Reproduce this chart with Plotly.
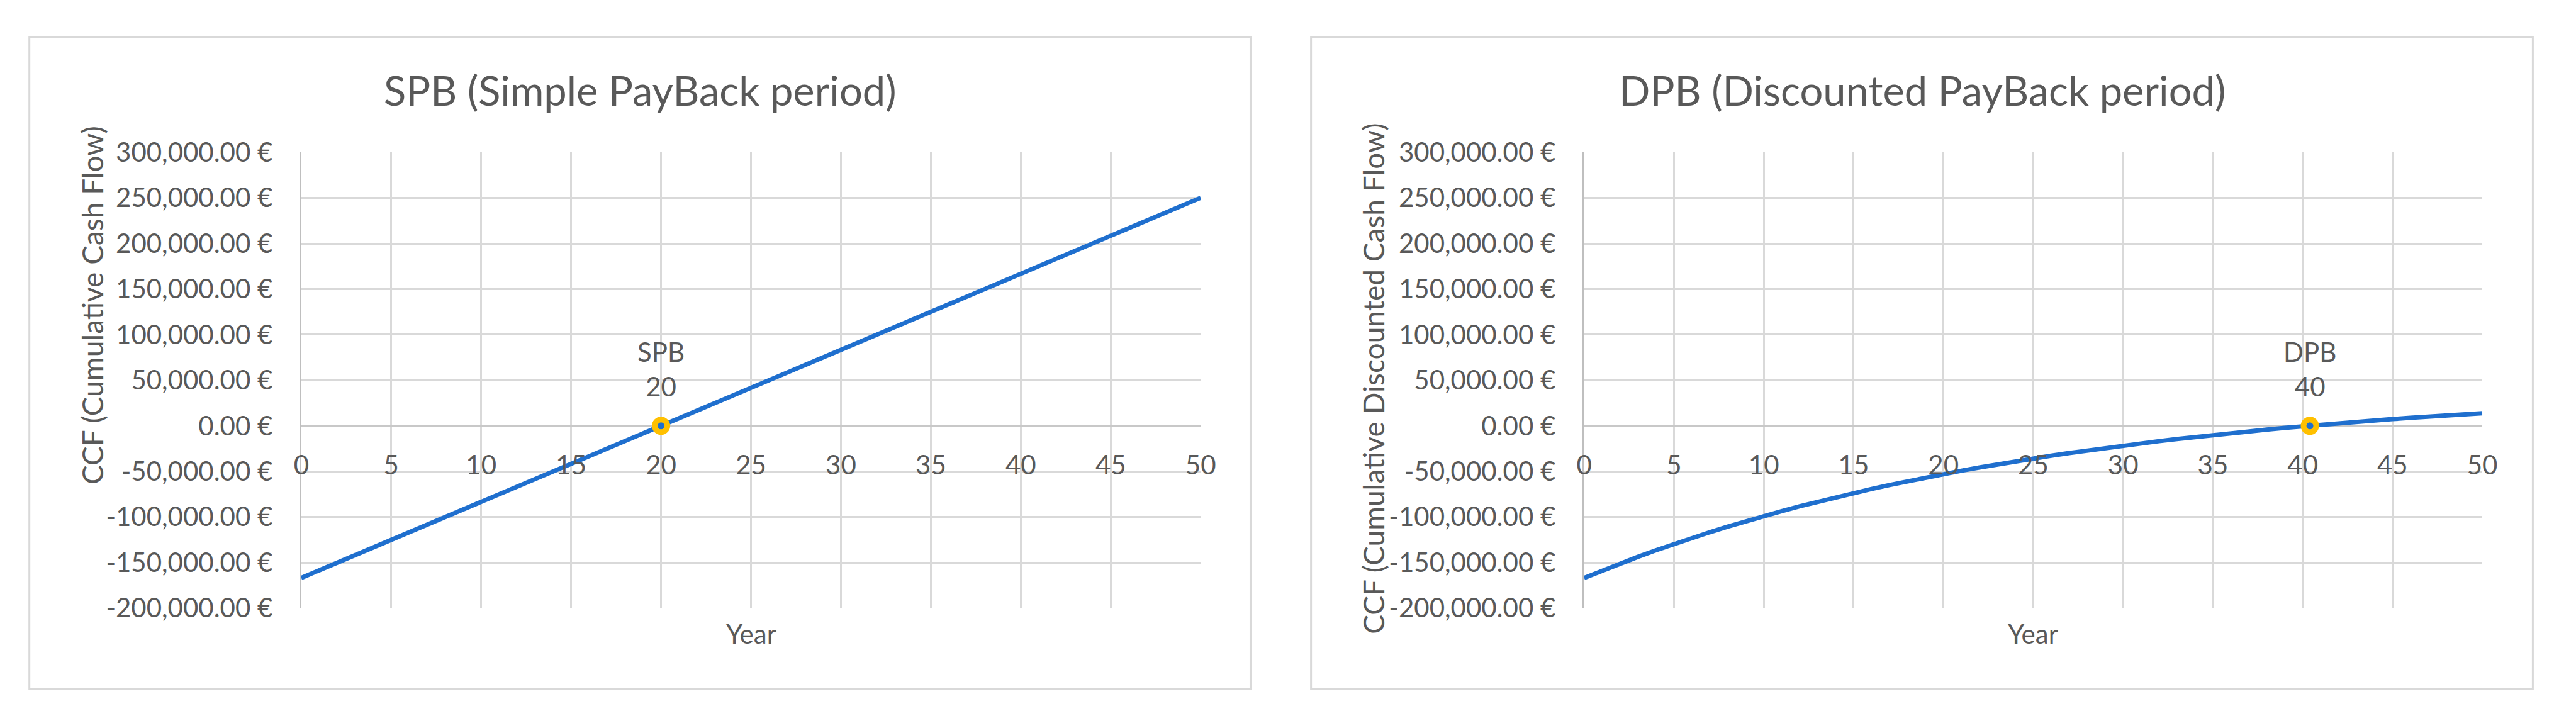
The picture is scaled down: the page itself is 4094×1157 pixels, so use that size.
"""
Simple vs discounted payback period charts (two Excel-style panels).
"""
import plotly.graph_objects as go

# --- data -----------------------------------------------------------------
years = list(range(51))

# cumulative cash flow (EUR), year 0..50
spb_ccf = [
    -166800, -158460, -150120, -141780, -133440, -125100, -116760, -108420,
    -100080, -91740, -83400, -75060, -66720, -58380, -50040, -41700, -33360,
    -25020, -16680, -8340, 0, 8340, 16680, 25020, 33360, 41700, 50040, 58380,
    66720, 75060, 83400, 91740, 100080, 108420, 116760, 125100, 133440,
    141780, 150120, 158460, 166800, 175140, 183480, 191820, 200160, 208500,
    216840, 225180, 233520, 241860, 250200,
]

# cumulative discounted cash flow (EUR), year 0..50
dpb_ccf = [
    -166800, -158777, -151059, -143634, -136491, -129620, -123010, -116650,
    -110533, -104648, -98987, -93541, -88301, -83261, -78412, -73748, -69261,
    -64944, -60791, -56797, -52953, -49256, -45700, -42278, -38987, -35821,
    -32775, -29844, -27026, -24314, -21705, -19195, -16781, -14459, -12225,
    -10075, -8007, -6018, -4105, -2264, -493, 1210, 2849, 4426, 5943, 7401,
    8805, 10155, 11454, 12704, 13906,
]

x_ticks = [0, 5, 10, 15, 20, 25, 30, 35, 40, 45, 50]
y_ticks = [-200000, -150000, -100000, -50000, 0, 50000, 100000, 150000,
           200000, 250000, 300000]
y_tick_labels = [
    "-200,000.00 €", "-150,000.00 €", "-100,000.00 €", "-50,000.00 €",
    "0.00 €", "50,000.00 €", "100,000.00 €", "150,000.00 €",
    "200,000.00 €", "250,000.00 €", "300,000.00 €",
]

payback_names = ["SPB", "DPB"]
payback_years = [20, 40.4]
payback_values = [0, 0]
payback_labels = ["20", "40"]

chart_titles = ["SPB (Simple PayBack period)", "DPB (Discounted PayBack period)"]
y_titles = ["CCF (Cumulative Cash Flow)", "CCF (Cumulative Discounted Cash Flow)"]

# --- styling --------------------------------------------------------------
W, H = 4094, 1157
TEXT = "#595959"
GRID = "#d9d9d9"
LINE = "#1f6fce"
RING = "#ffc000"
FONT = "Lato, Open Sans, sans-serif"

# panel geometry in pixels: (panel x0, panel x1, plot x0, plot x1, y-title centre)
panels = [(35, 1993, 471, 1913, 480), (2090, 4049, 2528, 3968, 602)]
PANEL_TOP, PANEL_BOTTOM = 35, 1117
PLOT_TOP, PLOT_BOTTOM = 226, 983


def px_x(v):
    return v / W


def px_y(v):
    return 1 - v / H


fig = go.Figure()
series = [spb_ccf, dpb_ccf]
y_dom = [px_y(PLOT_BOTTOM), px_y(PLOT_TOP)]
zero_pos = y_dom[0] + (0 - y_ticks[0]) / (y_ticks[-1] - y_ticks[0]) * (y_dom[1] - y_dom[0])

for i, (p0, p1, a0, a1, yt) in enumerate(panels):
    n = "" if i == 0 else str(i + 1)
    xa, ya = "x" + n, "y" + n

    fig.add_trace(go.Scatter(
        x=years, y=series[i], mode="lines",
        line=dict(color=LINE, width=7),
        xaxis=xa, yaxis=ya, showlegend=False, hoverinfo="skip",
    ))
    fig.add_trace(go.Scatter(
        x=[payback_years[i]], y=[payback_values[i]], mode="markers",
        marker=dict(size=20, color=LINE, line=dict(color=RING, width=9)),
        xaxis=xa, yaxis=ya, showlegend=False, hoverinfo="skip",
    ))
    fig.add_annotation(
        x=payback_years[i], y=payback_values[i], xref=xa, yref=ya,
        text=f"{payback_names[i]}<br>{payback_labels[i]}",
        showarrow=False, yanchor="bottom", yshift=36,
        font=dict(family=FONT, size=42, color=TEXT),
    )

    fig.update_layout({
        "xaxis" + n: dict(
            domain=[px_x(a0), px_x(a1)], range=[0, 50],
            tickvals=x_ticks, anchor="free", position=zero_pos,
            showgrid=True, gridcolor=GRID, gridwidth=3,
            zeroline=False, showline=False, ticks="",
            ticklabelstandoff=34,
            tickfont=dict(family=FONT, size=42, color=TEXT),
        ),
        "yaxis" + n: dict(
            domain=y_dom, range=[y_ticks[0], y_ticks[-1]], anchor=xa,
            tickvals=y_ticks, ticktext=y_tick_labels,
            showgrid=True, gridcolor=GRID, gridwidth=3,
            zeroline=True, zerolinecolor="#c8c8c8", zerolinewidth=3,
            showline=True, linecolor="#bfbfbf", linewidth=3, ticks="",
            ticklabelstandoff=34,
            tickfont=dict(family=FONT, size=42, color=TEXT),
        ),
    })

    # panel frame
    fig.add_shape(
        type="rect", xref="paper", yref="paper",
        x0=px_x(p0), x1=px_x(p1), y0=px_y(PANEL_BOTTOM), y1=px_y(PANEL_TOP),
        line=dict(color=GRID, width=3), fillcolor="rgba(0,0,0,0)",
    )
    # chart title
    fig.add_annotation(
        x=px_x((p0 + p1) / 2), y=px_y(122), xref="paper", yref="paper",
        text=chart_titles[i], showarrow=False, xanchor="center", yanchor="middle",
        font=dict(family=FONT, size=65, color=TEXT),
    )
    # y axis title
    fig.add_annotation(
        x=px_x(p0 + 100), y=px_y(yt), xref="paper", yref="paper",
        text=y_titles[i], textangle=-90, showarrow=False,
        xanchor="center", yanchor="middle",
        font=dict(family=FONT, size=46, color=TEXT),
    )
    # x axis title
    fig.add_annotation(
        x=px_x((a0 + a1) / 2), y=px_y(1025), xref="paper", yref="paper",
        text="Year", showarrow=False, xanchor="center", yanchor="middle",
        font=dict(family=FONT, size=42, color=TEXT),
    )

fig.update_layout(
    width=W, height=H,
    margin=dict(l=0, r=0, t=0, b=0),
    paper_bgcolor="white", plot_bgcolor="white",
    font=dict(family=FONT, color=TEXT),
)

fig.write_html(
    "out.html",
    config={"displayModeBar": False},
    post_script="document.body.style.margin='0';document.body.style.overflow='hidden';",
)
